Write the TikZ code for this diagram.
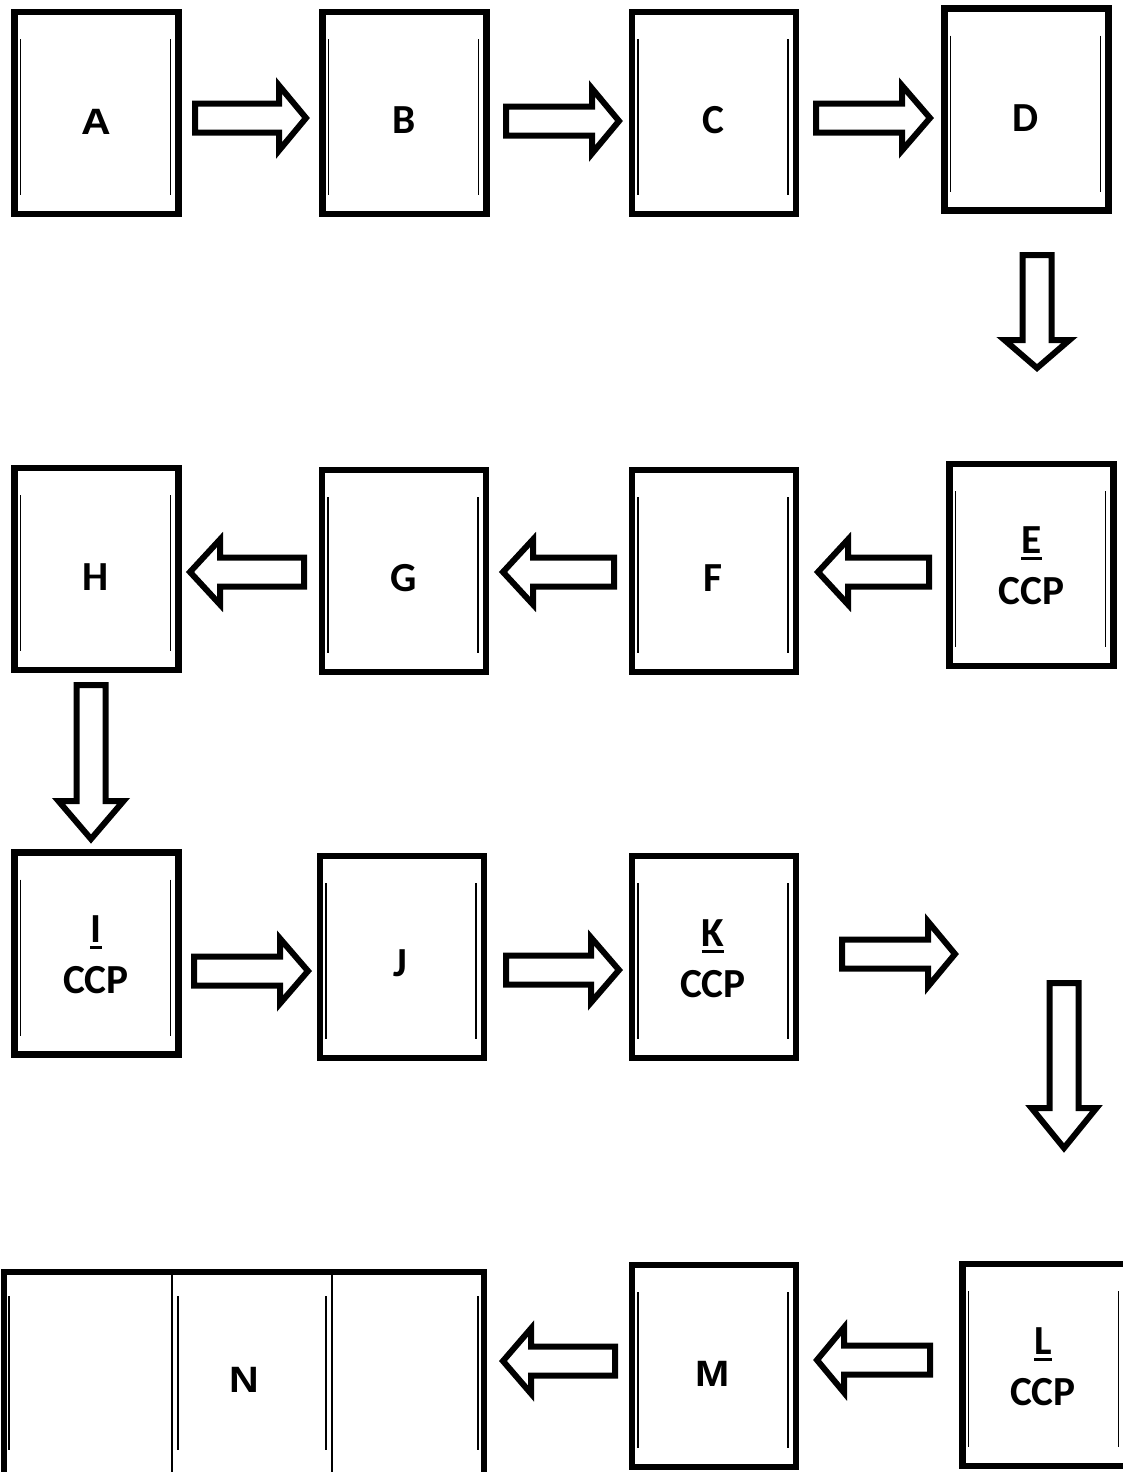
\documentclass[tikz,border=0pt]{standalone}
\usepackage{graphicx}
\usepackage{fontspec}
\setmainfont{Carlito}
\newfontfamily\arialfont{Liberation Sans}
\usetikzlibrary{calc}
\newdimen\px \px=0.75pt

% thin inner side lines of a process box
\newcommand\sides[1]{%
  \draw[sideline] ($(#1.north west)+(6,27)$) -- ($(#1.south west)+(6,-19)$);
  \draw[sideline] ($(#1.north east)+(-8,27)$) -- ($(#1.south east)+(-8,-19)$);}
% heavier underline for the step letters
\newcommand\ulletter[1]{\vtop{\hbox{#1}\kern2.6pt\hrule height 2.2pt}}
% slightly widened sans letters
\newcommand\wide[1]{\scalebox{1.12}[1]{#1}}

\begin{document}
\begin{tikzpicture}[x=0.75pt,y=-0.75pt,
  procbox/.style={draw, line width=6.5\px, minimum width=164\px, minimum height=202\px,
    inner sep=0pt, outer sep=0pt},
  sideline/.style={line width=1.8\px},
  divider/.style={line width=2\px},
  arrowstroke/.style={draw, line width=6\px, line join=miter, miter limit=10, fill=white},
  lblc/.style={font=\bfseries\fontsize{31}{38.5}\selectfont, inner sep=0pt, align=center},
  lbla/.style={font=\arialfont\bfseries\fontsize{27.5}{32}\selectfont, inner sep=0pt},
  pics/blockarrow/.style n args={2}{code={
    \path[arrowstroke] (0,-14.5) -- ({#1-#2},-14.5) -- ({#1-#2},-32.5) -- (#1,0)
      -- ({#1-#2},32.5) -- ({#1-#2},14.5) -- (0,14.5) -- cycle;}},
]
\useasboundingbox (0,0) rectangle (1123,1472);
\fill[white] (0,0) rectangle (1123,1472);
\clip (0,0) rectangle (1123,1472);

% ---- boxes ----
\node[procbox] (A) at (96.5,113) {};
\node[procbox] (B) at (404.5,113) {};
\node[procbox] (C) at (714,113) {};
\node[procbox] (D) at (1026.5,109.5) {};
\node[procbox] (E) at (1031.5,565) {};
\node[procbox] (F) at (714,571) {};
\node[procbox] (G) at (404,571) {};
\node[procbox] (H) at (96.5,569) {};
\node[procbox] (I) at (96.5,953.5) {};
\node[procbox] (J) at (402,957) {};
\node[procbox] (K) at (714,957) {};
\node[procbox] (L) at (1044.5,1365) {};
\node[procbox] (M) at (714,1366) {};
\node[procbox, minimum width=480\px, minimum height=204\px] (N) at (244,1374) {};

\foreach \b in {A,B,C,D,E,F,G,H,I,J,K,L,M} {\sides{\b}}

% three-part box N
\draw[divider] ($(N.north west)+(168,0)$) -- ($(N.south west)+(168,0)$);
\draw[divider] ($(N.north west)+(328,0)$) -- ($(N.south west)+(328,0)$);
\foreach \dx in {5,174,322,474}
  \draw[sideline] ($(N.north west)+(\dx,24)$) -- ($(N.south west)+(\dx,-26)$);

% ---- labels ----
\node[lbla] (tA) at (96,122) {\wide{A}};
\node[lblc] (tB) at (404,120) {B};
\node[lblc] (tC) at (713,120) {C};
\node[lblc] (tD) at (1026,118) {D};
\node[lblc] (tE) at (1031.5,566) {\ulletter{E}\\CCP};
\node[lblc] (tF) at (713,578) {F};
\node[lblc] (tG) at (404,578) {G};
\node[lblc] (tH) at (96,577) {H};
\node[lblc] (tI) at (96,954.5) {\ulletter{I}\\CCP};
\node[lblc] (tJ) at (400,963) {J};
\node[lblc] (tK) at (713,959) {\ulletter{K}\\CCP};
\node[lblc] (tL) at (1043,1367) {\ulletter{L}\\CCP};
\node[lbla] (tM) at (713,1374) {\wide{M}};
\node[lbla] (tN) at (244,1380) {\wide{N}};

% ---- block arrows ----
\pic at ($(A.east)+(16.5,5)$) {blockarrow={111}{27}};
\pic at ($(B.east)+(19.5,8)$) {blockarrow={113}{27}};
\pic at ($(C.east)+(20,5)$) {blockarrow={114}{28}};
\pic[rotate=-90] at ($(D.south)+(10.5,44.5)$) {blockarrow={113}{28}};
\pic[rotate=180] at ($(E.west)+(-20.5,7)$) {blockarrow={111}{30}};
\pic[rotate=180] at ($(F.west)+(-18,1)$) {blockarrow={111}{30}};
\pic[rotate=180] at ($(G.west)+(-18,1)$) {blockarrow={114}{30}};
\pic[rotate=-90] at ($(H.south)+(-5.5,15)$) {blockarrow={154}{38}};
\pic at ($(I.east)+(15.5,17.5)$) {blockarrow={114}{28}};
\pic at ($(J.east)+(22,13)$) {blockarrow={113}{28}};
\pic at ($(K.east)+(46,-3)$) {blockarrow={113}{27}};
\pic[rotate=-90] at ($(L.north)+(19.5,-281)$) {blockarrow={165}{40}};
\pic[rotate=180] at ($(L.west)+(-32.5,-5)$) {blockarrow={113}{27}};
\pic[rotate=180] at ($(M.west)+(-17,-5)$) {blockarrow={112}{28}};
\end{tikzpicture}
\end{document}
